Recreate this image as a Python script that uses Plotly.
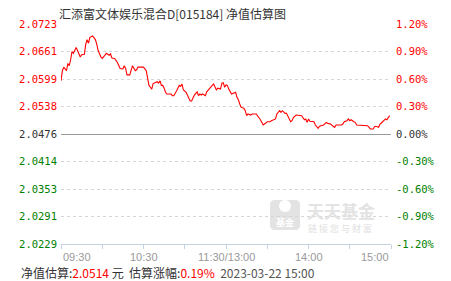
import plotly.graph_objects as go

# ---- data ----
minutes = [0, 1, 2, 4, 5, 6, 7, 8, 9, 11, 12, 14, 15, 17, 18, 19, 20, 21, 23, 25,
           26, 27, 29, 30, 32, 33, 35, 36, 37, 39, 41, 42, 43, 45, 46, 47, 48, 50, 51, 52,
           54, 55, 56, 60, 62, 63, 64, 65, 66, 67, 68, 70, 71, 72, 73, 74, 75, 76, 77, 80,
           81, 82, 84, 85, 86, 87, 88, 89, 90, 91, 93, 94, 95, 96, 97, 99, 100, 101, 102, 103,
           105, 106, 108, 110, 111, 112, 113, 114, 116, 117, 118, 119, 120, 121, 122, 124, 126, 127, 128, 129,
           130, 131, 133, 134, 135, 136, 138, 139, 142, 144, 145, 146, 147, 149, 150, 152, 153, 156, 157, 159,
           160, 161, 163, 164, 166, 167, 168, 169, 171, 172, 173, 175, 177, 178, 179, 180, 181, 184, 185, 187,
           188, 190, 191, 193, 194, 196, 198, 199, 200, 204, 205, 206, 208, 209, 210, 211, 213, 214, 215, 217,
           219, 220, 221, 222, 223, 225, 227, 228, 229, 231, 232, 233, 234, 236, 237, 238, 239]
pct = [0.58, 0.69, 0.73, 0.69, 0.77, 0.745, 0.81, 0.90, 0.88, 0.945, 0.91, 0.84, 0.865, 0.87, 0.98, 1.03, 0.99, 1.055, 1.07, 1.03,
       0.98, 0.91, 0.84, 0.825, 0.86, 0.88, 0.86, 0.875, 0.83, 0.825, 0.78, 0.75, 0.715, 0.71, 0.745, 0.715, 0.645, 0.645, 0.70, 0.745,
       0.69, 0.70, 0.73, 0.73, 0.69, 0.60, 0.53, 0.51, 0.49, 0.55, 0.555, 0.57, 0.555, 0.58, 0.53, 0.53, 0.50, 0.455, 0.436, 0.436,
       0.418, 0.418, 0.47, 0.50, 0.53, 0.52, 0.545, 0.48, 0.47, 0.455, 0.39, 0.36, 0.36, 0.40, 0.425, 0.46, 0.418, 0.436, 0.425, 0.436,
       0.418, 0.46, 0.50, 0.53, 0.545, 0.50, 0.48, 0.50, 0.49, 0.555, 0.56, 0.51, 0.535, 0.53, 0.49, 0.436, 0.447, 0.455, 0.40, 0.374,
       0.327, 0.29, 0.28, 0.254, 0.20, 0.218, 0.207, 0.218, 0.218, 0.18, 0.156, 0.127, 0.098, 0.12, 0.134, 0.134, 0.145, 0.164, 0.218, 0.254,
       0.236, 0.254, 0.225, 0.225, 0.17, 0.134, 0.145, 0.18, 0.207, 0.207, 0.20, 0.20, 0.156, 0.164, 0.127, 0.164, 0.138, 0.134, 0.098, 0.062,
       0.084, 0.098, 0.098, 0.127, 0.116, 0.109, 0.08, 0.073, 0.098, 0.098, 0.109, 0.134, 0.145, 0.164, 0.145, 0.156, 0.134, 0.127, 0.098, 0.098,
       0.09, 0.098, 0.09, 0.098, 0.09, 0.055, 0.055, 0.08, 0.084, 0.073, 0.109, 0.12, 0.134, 0.164, 0.156, 0.18, 0.20]

grid_pct = [1.2, 0.9, 0.6, 0.3, 0.0, -0.3, -0.6, -0.9, -1.2]
nav_labels = ["2.0723", "2.0661", "2.0599", "2.0538", "2.0476", "2.0414", "2.0353", "2.0291", "2.0229"]
pct_labels = ["1.20%", "0.90%", "0.60%", "0.30%", "0.00%", "-0.30%", "-0.60%", "-0.90%", "-1.20%"]
x_tick_minutes = [0, 30, 60, 90, 120, 150, 180, 210, 240]
x_label_minutes = [0, 60, 120, 180, 240]
x_labels = ["09:30", "10:30", "11:30/13:00", "14:00", "15:00"]

title_text = "汇添富文体娱乐混合D[015184] 净值估算图"
est_nav = "2.0514"
est_pct = "0.19%"
est_time = "2023-03-22 15:00"

RED = "#ff0000"
GREEN = "#008000"
DARK = "#333333"


def colored(labels, vals):
    out = []
    for lab, v in zip(labels, vals):
        c = RED if v > 0 else (GREEN if v < 0 else DARK)
        out.append(f'<span style="color:{c}">{lab}</span>')
    return out


# plot area in pixels
L, R, T, B = 61, 391, 24, 244
W, H = 451, 281


def px(xp):
    return (xp - L) / (R - L)


def py(yp):
    return (B - yp) / (B - T)


fig = go.Figure()
fig.add_trace(go.Scatter(x=minutes, y=pct, mode="lines",
                         line=dict(color=RED, width=1.1), hoverinfo="skip",
                         showlegend=False))
fig.add_trace(go.Scatter(x=minutes, y=pct, mode="lines", yaxis="y2",
                         line=dict(color="rgba(0,0,0,0)", width=0), hoverinfo="skip",
                         showlegend=False))

tickfont = dict(family="DejaVu Sans Mono", size=10.5, color=DARK)

fig.update_layout(
    width=W, height=H,
    margin=dict(l=L, r=W - R, t=T, b=H - B),
    paper_bgcolor="white", plot_bgcolor="white",
    xaxis=dict(range=[0, 240], tickvals=x_tick_minutes, ticktext=[""] * len(x_tick_minutes),
               ticks="outside", ticklen=4, tickcolor="#c3d1e0", showgrid=False,
               showline=True, linecolor="#c3d1e0", linewidth=1, zeroline=False,
               fixedrange=True),
    yaxis=dict(range=[-1.2, 1.2], tickvals=grid_pct, ticktext=colored(nav_labels, grid_pct),
               tickfont=tickfont, showgrid=True, gridcolor="#d6d6d6", griddash="dot",
               gridwidth=1, zeroline=True, zerolinecolor="#999999", zerolinewidth=1,
               showline=False, ticks="", ticklabelstandoff=3, fixedrange=True),
    yaxis2=dict(range=[-1.2, 1.2], overlaying="y", side="right", tickvals=grid_pct,
                ticktext=colored(pct_labels, grid_pct), tickfont=tickfont,
                showgrid=False, zeroline=False, showline=False, ticks="",
                ticklabelstandoff=4, fixedrange=True),
)

ann = []
# x tick labels
anchors = ["left", "center", "center", "center", "right"]
for m, lab, a in zip(x_label_minutes, x_labels, anchors):
    ann.append(dict(x=m, y=py(249), xref="x", yref="paper", text=lab, showarrow=False,
                    xanchor=a, yanchor="top", font=dict(family="Liberation Sans", size=11, color="#999999")))
# title
ann.append(dict(x=px(57), y=py(3), xref="paper", yref="paper", text=title_text, showarrow=False,
                xanchor="left", yanchor="top", font=dict(family="Noto Sans CJK SC", size=12, color=DARK)))
# bottom info line
info = (f'净值估算:<span style="color:{RED}">{est_nav}</span> 元  估算涨幅:'
        f'<span style="color:{RED}">{est_pct}</span>  <span style="color:#555555">{est_time}</span>')
ann.append(dict(x=px(19), y=py(272), xref="paper", yref="paper", text=info, showarrow=False,
                xanchor="left", yanchor="middle", font=dict(family="Noto Sans CJK SC", size=12, color=DARK)))
# watermark
ann.append(dict(x=px(305), y=py(199), xref="paper", yref="paper", text="<b>天天基金</b>", showarrow=False,
                xanchor="left", yanchor="top", font=dict(family="Noto Sans CJK SC", size=17, color="#e3e3e3"),
                height=19, valign="middle"))
ann.append(dict(x=px(306), y=py(221), xref="paper", yref="paper", text="链 接 您 与 财 富", showarrow=False,
                xanchor="left", yanchor="top", font=dict(family="Noto Sans CJK SC", size=9, color="#e0e0e0"),
                height=11, valign="middle"))
ann.append(dict(x=px(285), y=py(222), xref="paper", yref="paper", text="<b>基金</b>", showarrow=False,
                xanchor="center", yanchor="middle", font=dict(family="Noto Sans CJK SC", size=9, color="white")))
fig.update_layout(annotations=ann)

# watermark icon (rounded square + dot) in pixel-derived paper coordinates
x0, x1, y0, y1, r = 270, 300, 200, 230, 5
path = (f"M {px(x0 + r)} {py(y0)} L {px(x1 - r)} {py(y0)} Q {px(x1)} {py(y0)} {px(x1)} {py(y0 + r)} "
        f"L {px(x1)} {py(y1 - r)} Q {px(x1)} {py(y1)} {px(x1 - r)} {py(y1)} "
        f"L {px(x0 + r)} {py(y1)} Q {px(x0)} {py(y1)} {px(x0)} {py(y1 - r)} "
        f"L {px(x0)} {py(y0 + r)} Q {px(x0)} {py(y0)} {px(x0 + r)} {py(y0)} Z")
fig.add_shape(type="path", path=path, xref="paper", yref="paper",
              fillcolor="#e3e3e3", line=dict(width=0), layer="below")
fig.add_shape(type="circle", xref="paper", yref="paper",
              x0=px(279), x1=px(291), y0=py(212), y1=py(200),
              fillcolor="white", line=dict(width=0), layer="below")

fig.write_html("out.html", config={"displayModeBar": False})
